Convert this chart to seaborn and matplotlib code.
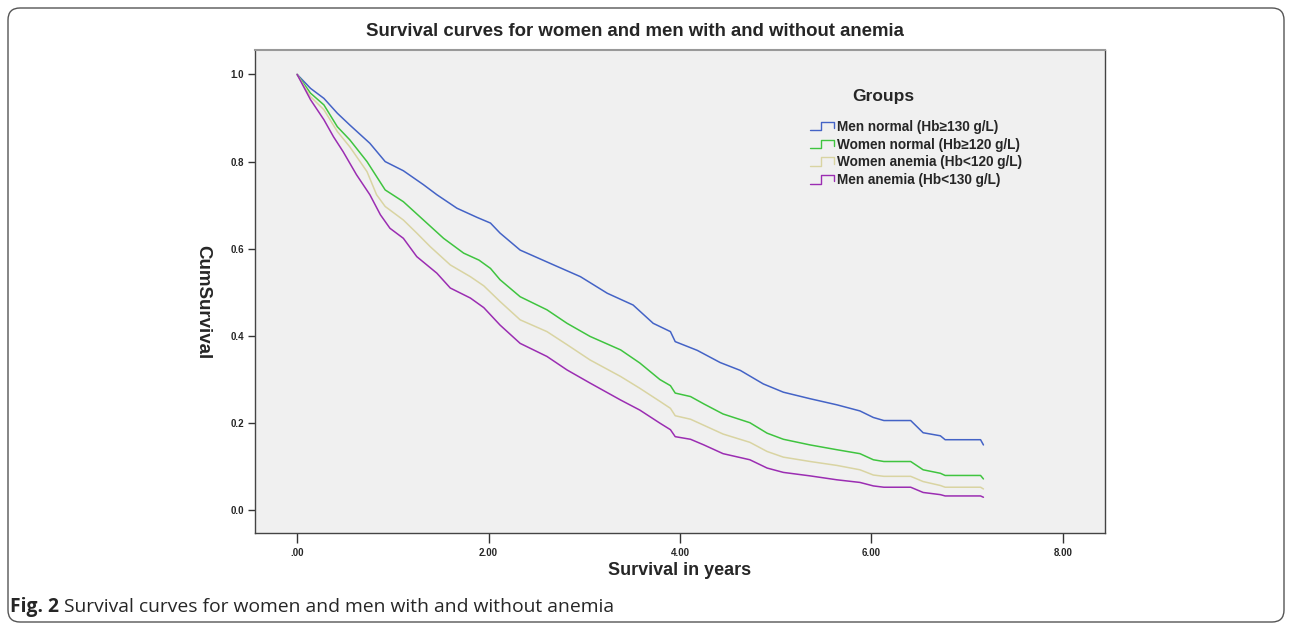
import numpy as np
import pandas as pd
import matplotlib
matplotlib.use('Agg')
import matplotlib.pyplot as plt
import seaborn as sns
from matplotlib.lines import Line2D
from matplotlib.patches import FancyBboxPatch
from matplotlib.legend_handler import HandlerBase
from matplotlib.transforms import IdentityTransform

# survival curves (years, cumulative survival)
men_normal_t = [0, 0.14, 0.28, 0.42, 0.55, 0.76, 0.92, 1.11, 1.32, 1.46, 1.67, 1.88, 2.02, 2.12,
                2.33, 2.68, 2.96, 3.24, 3.51, 3.72, 3.90, 3.95, 4.18, 4.42, 4.63, 4.87, 5.08,
                5.36, 5.64, 5.88, 6.02, 6.13, 6.41, 6.54, 6.72, 6.77, 7.14, 7.17]
men_normal_s = [1.0, 0.968, 0.945, 0.911, 0.884, 0.842, 0.80, 0.779, 0.747, 0.724, 0.693, 0.672,
                0.659, 0.636, 0.597, 0.563, 0.536, 0.498, 0.471, 0.429, 0.41, 0.387, 0.367,
                0.339, 0.321, 0.29, 0.271, 0.256, 0.242, 0.228, 0.213, 0.206, 0.206, 0.178,
                0.171, 0.162, 0.162, 0.15]

women_normal_t = [0, 0.14, 0.28, 0.42, 0.55, 0.73, 0.92, 1.11, 1.32, 1.53, 1.74, 1.90, 2.02,
                  2.12, 2.33, 2.61, 2.82, 3.06, 3.38, 3.58, 3.79, 3.90, 3.95, 4.11, 4.25, 4.45,
                  4.73, 4.91, 5.08, 5.36, 5.64, 5.88, 6.02, 6.13, 6.41, 6.54, 6.72, 6.77, 7.14,
                  7.17]
women_normal_s = [1.0, 0.957, 0.93, 0.88, 0.85, 0.80, 0.735, 0.708, 0.666, 0.624, 0.59, 0.574,
                  0.555, 0.529, 0.49, 0.46, 0.429, 0.399, 0.368, 0.338, 0.30, 0.286, 0.269,
                  0.261, 0.244, 0.221, 0.201, 0.177, 0.163, 0.15, 0.139, 0.13, 0.116, 0.112,
                  0.112, 0.093, 0.085, 0.08, 0.08, 0.072]

women_anemia_t = [0, 0.14, 0.28, 0.42, 0.55, 0.73, 0.83, 0.92, 1.11, 1.25, 1.39, 1.60, 1.81,
                  1.95, 2.12, 2.33, 2.61, 2.82, 3.06, 3.38, 3.58, 3.79, 3.90, 3.95, 4.11, 4.25,
                  4.45, 4.73, 4.91, 5.08, 5.36, 5.64, 5.88, 6.02, 6.13, 6.41, 6.54, 6.72, 6.77,
                  7.14, 7.17]
women_anemia_s = [1.0, 0.949, 0.919, 0.869, 0.834, 0.777, 0.724, 0.697, 0.666, 0.636, 0.605,
                  0.563, 0.536, 0.515, 0.479, 0.437, 0.41, 0.38, 0.345, 0.307, 0.28, 0.25,
                  0.234, 0.217, 0.209, 0.195, 0.175, 0.156, 0.135, 0.122, 0.112, 0.103, 0.093,
                  0.081, 0.078, 0.078, 0.066, 0.057, 0.053, 0.053, 0.049]

men_anemia_t = [0, 0.14, 0.28, 0.38, 0.48, 0.62, 0.76, 0.87, 0.97, 1.11, 1.25, 1.46, 1.60, 1.81,
                1.95, 2.12, 2.33, 2.61, 2.82, 3.06, 3.38, 3.58, 3.79, 3.90, 3.95, 4.11, 4.25,
                4.45, 4.73, 4.91, 5.08, 5.36, 5.64, 5.88, 6.02, 6.13, 6.41, 6.54, 6.72, 6.77,
                7.14, 7.17]
men_anemia_s = [1.0, 0.942, 0.896, 0.857, 0.823, 0.77, 0.724, 0.678, 0.647, 0.624, 0.582, 0.544,
                0.51, 0.487, 0.465, 0.425, 0.383, 0.353, 0.322, 0.292, 0.253, 0.23, 0.20, 0.185,
                0.169, 0.163, 0.15, 0.13, 0.116, 0.097, 0.087, 0.079, 0.07, 0.064, 0.056, 0.053,
                0.053, 0.041, 0.036, 0.033, 0.033, 0.03]

groups = ['Men normal (Hb≥130 g/L)', 'Women normal (Hb≥120 g/L)',
          'Women anemia (Hb<120 g/L)', 'Men anemia (Hb<130 g/L)']
colors = ['#4463C6', '#3FC43F', '#D9D4A2', '#9B2DB2']
x_ticks = [0, 2, 4, 6, 8]
x_tick_labels = ['.00', '2.00', '4.00', '6.00', '8.00']
y_ticks = [0.0, 0.2, 0.4, 0.6, 0.8, 1.0]
y_tick_labels = ['0.0', '0.2', '0.4', '0.6', '0.8', '1.0']

frames = []
for g, t, s in zip(groups,
                   [men_normal_t, women_normal_t, women_anemia_t, men_anemia_t],
                   [men_normal_s, women_normal_s, women_anemia_s, men_anemia_s]):
    frames.append(pd.DataFrame({'time': t, 'surv': s, 'group': g}))
df = pd.concat(frames, ignore_index=True)

sns.set_style('white')
plt.rcParams['font.family'] = ['Liberation Sans', 'DejaVu Sans']


class StepHandler(HandlerBase):
    # little step glyph like the SPSS legend
    def create_artists(self, legend, orig_handle, xdescent, ydescent, width, height, fontsize, trans):
        c = orig_handle.get_color()
        lo = -ydescent + 0.05 * height
        hi = -ydescent + 0.95 * height
        x0 = -xdescent
        xs = [x0, x0 + 0.45 * width, x0 + 0.45 * width, x0 + width, x0 + width]
        ys = [lo, lo, hi, hi, lo + 0.25 * height]
        ln = Line2D(xs, ys, color=c, lw=1.0, transform=trans)
        return [ln]


fig = plt.figure(figsize=(12.92, 6.24), dpi=100)
ax = fig.add_axes([255 / 1292, 1 - 533 / 624, 850 / 1292, 483 / 624])
ax.set_facecolor('#F0F0F0')

sns.lineplot(data=df, x='time', y='surv', hue='group', hue_order=groups,
             palette=colors, estimator=None, sort=False, linewidth=1.1,
             legend=False, ax=ax)

ax.set_xlim(-0.44, 8.44)
ax.set_ylim(-0.052, 1.056)
ax.set_xticks(x_ticks)
ax.set_xticklabels(x_tick_labels, fontsize=7, fontweight='bold')
ax.set_yticks(y_ticks)
ax.set_yticklabels(y_tick_labels, fontsize=7, fontweight='bold')
ax.tick_params(axis='both', direction='out', length=5, width=1, color='#333333',
               bottom=True, left=True, pad=3)
ax.tick_params(axis='x', length=7, pad=4)
for side in ['left', 'bottom', 'right']:
    ax.spines[side].set_color('#444444')
    ax.spines[side].set_linewidth(1.0)
ax.spines['top'].set_color('#999999')
ax.spines['top'].set_linewidth(1.5)

ax.set_xlabel('Survival in years', fontsize=13, fontweight='bold', labelpad=3)
ax.set_ylabel('')
fig.text(203 / 1292, 1 - 302 / 624, 'CumSurvival', rotation=270, ha='center', va='center',
         fontsize=13.5, fontweight='bold')

fig.text(635 / 1292, 1 - 32 / 624, 'Survival curves for women and men with and without anemia',
         ha='center', va='center', fontsize=13.4, fontweight='bold')

# legend
fig.text(883 / 1292, 1 - 96 / 624, 'Groups', ha='center', va='center',
         fontsize=12.5, fontweight='bold')
handles = [Line2D([0], [0], color=c, lw=1) for c in colors]
fig.legend(handles, groups, loc='upper left', bbox_to_anchor=(803 / 1292, 1 - 113 / 624),
           frameon=False, handler_map={Line2D: StepHandler()},
           handlelength=1.75, handleheight=0.7, handletextpad=0.25, labelspacing=0.28,
           borderpad=0, prop={'weight': 'bold', 'size': 9.8})

# outer frame and caption
frame = FancyBboxPatch((8, 2), 1276, 614, boxstyle='round,pad=0,rounding_size=12',
                       transform=IdentityTransform(), fill=False, edgecolor='#555555', lw=1.0)
fig.add_artist(frame)

cap1 = fig.text(10 / 1292, 1 - 607 / 624, 'Fig. 2', ha='left', va='center', fontsize=13.9,
                fontweight='bold', family=['Open Sans', 'DejaVu Sans'])
r = fig.canvas.get_renderer()
bb = cap1.get_window_extent(renderer=r)
fig.text((bb.x1 + 5) / 1292, 1 - 607 / 624,
         'Survival curves for women and men with and without anemia',
         ha='left', va='center', fontsize=13.9, family=['Open Sans', 'DejaVu Sans'])

fig.savefig('out.png', dpi=100)
